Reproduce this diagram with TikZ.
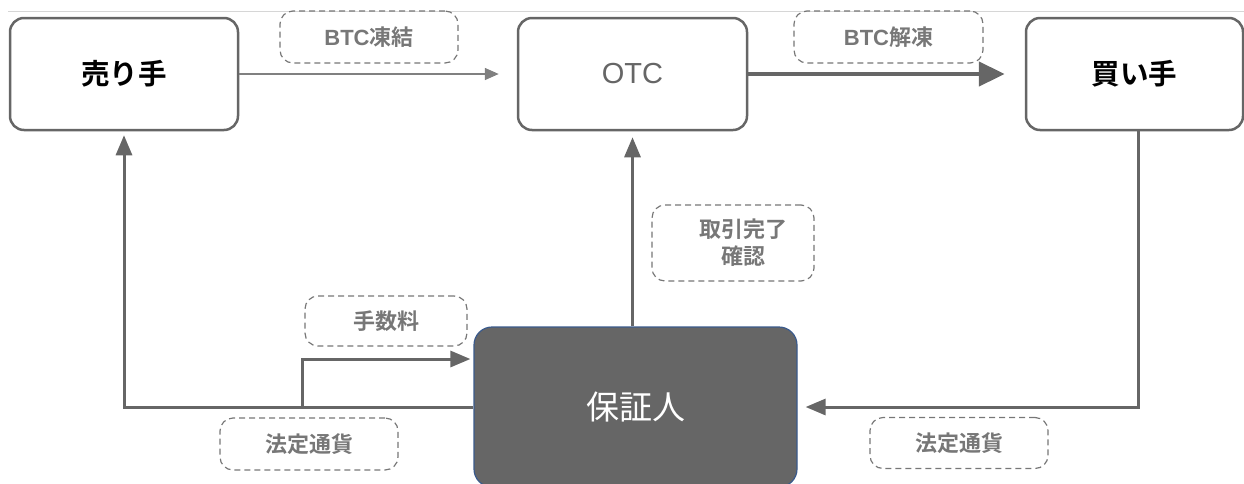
\documentclass[tikz,border=0pt]{standalone}
\usepackage{fontspec}
\setmainfont{Noto Sans CJK JP}[BoldFont={Noto Sans CJK JP Bold}]
\newfontfamily\latinsans{Liberation Sans}
\usetikzlibrary{arrows.meta}
\definecolor{linegray}{HTML}{666666}
\definecolor{thingray}{HTML}{808080}
\definecolor{labelgray}{HTML}{777777}
\definecolor{toprule}{HTML}{D6D6D6}
\definecolor{guarblue}{HTML}{3A5A8C}
\tikzset{
  mainbox/.style={draw=linegray, line width=2.5pt, rounded corners=14pt, fill=white,
    inner sep=0pt, font=\bfseries\fontsize{28.5}{32}\selectfont},
  guarbox/.style={draw=guarblue, fill=linegray, line width=1.2pt, rounded corners=18pt,
    inner sep=0pt, text=white, font=\fontsize{33}{38}\selectfont},
  tag/.style={draw=labelgray, dashed, dash pattern=on 6pt off 4pt, line width=1.2pt,
    rounded corners=13pt, inner sep=0pt, text=labelgray, align=center,
    font=\bfseries\fontsize{22}{27}\selectfont},
  conn/.style={draw=linegray, line width=3pt},
  tip/.style={-{Triangle[length=20pt,width=16pt]}},
}
\begin{document}
\begin{tikzpicture}[x=1pt,y=-1pt]
\useasboundingbox (0,0) rectangle (1244,483);
\draw[toprule, line width=1pt] (8,11) -- (1244,11);
% boxes
\node[mainbox, minimum width=228pt, minimum height=112pt] (seller) at (124,74) {売り手};
\node[mainbox, minimum width=229pt, minimum height=112pt, font=\latinsans\fontsize{29}{32}\selectfont, text=linegray] (otc) at (632.5,74) {OTC};
\node[mainbox, minimum width=217pt, minimum height=112pt] (buyer) at (1134.5,74) {買い手};
\node[guarbox, minimum width=323pt, minimum height=160pt] (guar) at (635.5,407) {保証人};
% labels
\node[tag, minimum width=178pt, minimum height=52pt] (lfreeze) at (369,37) {{\latinsans\bfseries BTC}凍結};
\node[tag, minimum width=189pt, minimum height=52pt] (lunfreeze) at (888.5,37) {{\latinsans\bfseries BTC}解凍};
\node[tag, minimum width=162pt, minimum height=76pt] (lconfirm) at (733,243) {\hspace*{20pt}取引完了\\\hspace*{20pt}確認};
\node[tag, minimum width=162pt, minimum height=50pt] (lfee) at (386,321) {手数料};
\node[tag, minimum width=178pt, minimum height=52pt] (lfiatL) at (309,444) {法定通貨};
\node[tag, minimum width=178pt, minimum height=51pt] (lfiatR) at (959,443) {法定通貨};
% connectors
\draw[draw=thingray, line width=1.6pt, -{Triangle[length=14pt,width=12pt]}, shorten >=18pt] (seller.east) -- (otc.west);
\draw[conn, line width=4.5pt, -{Triangle[length=26pt,width=24pt]}, shorten >=20pt] (otc.east) -- (buyer.west);
\draw[conn, tip, shorten >=4pt] (guar.west) -| (seller.south);
\coordinate (feesplit) at (302,407);
\draw[conn, tip, shorten >=3pt] (feesplit) |- ([yshift=48pt]guar.west);
\draw[conn, tip, shorten >=6pt] (otc.south |- guar.north) -- (otc.south);
\draw[conn, tip, shorten >=8pt] ([xshift=4pt]buyer.south) |- (guar.east);
\end{tikzpicture}
\end{document}
